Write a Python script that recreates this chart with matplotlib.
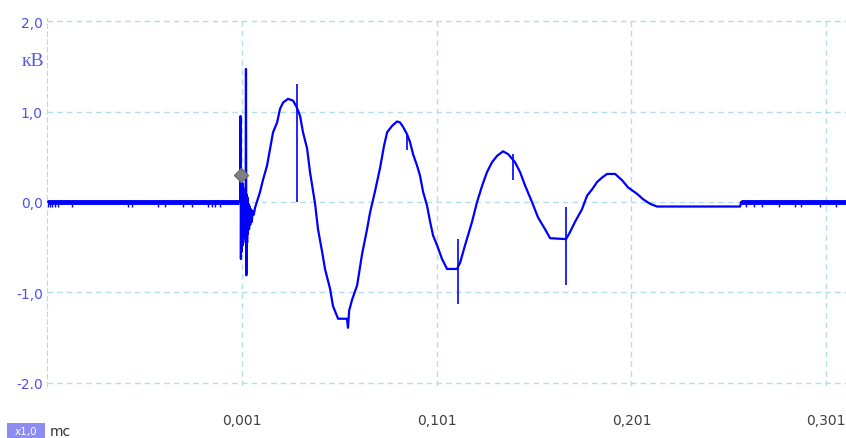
import numpy as np
import matplotlib.pyplot as plt
from matplotlib.patches import Rectangle

# main trace, time in ms, voltage in kV
t_trace = [-0.0992, -0.0005, 0.0000, 0.0002, 0.0004, 0.0006, 0.0008, 0.0010, 0.0012,
           0.0014, 0.0016, 0.0018, 0.0020, 0.0022, 0.0024, 0.0026, 0.0028, 0.0030,
           0.0032, 0.0034, 0.0036, 0.0038, 0.0040, 0.0043, 0.0046, 0.0049, 0.0052,
           0.0056, 0.0060, 0.0064, 0.0070, 0.0077,
           0.0102, 0.0118, 0.0138, 0.0154, 0.0169, 0.0190,
           0.0205, 0.0221, 0.0246, 0.0272, 0.0290, 0.0308, 0.0323, 0.0344, 0.0359,
           0.0385, 0.0400, 0.0421, 0.0436, 0.0462, 0.0477, 0.0503, 0.0549, 0.0554,
           0.0560, 0.0575, 0.0601, 0.0626, 0.0652, 0.0667, 0.0693, 0.0719, 0.0739,
           0.0755, 0.0780, 0.0806, 0.0821, 0.0837, 0.0857, 0.0873, 0.0888, 0.0909,
           0.0924, 0.0940, 0.0960, 0.0976, 0.0991, 0.1012, 0.1037, 0.1063, 0.1114,
           0.1130, 0.1155, 0.1191, 0.1217, 0.1243, 0.1268, 0.1294, 0.1320, 0.1350,
           0.1376, 0.1412, 0.1438, 0.1464, 0.1499, 0.1530, 0.1566, 0.1592, 0.1674,
           0.1695, 0.1720, 0.1756, 0.1782, 0.1808, 0.1833, 0.1859, 0.1885, 0.1926,
           0.1962, 0.1993, 0.2039, 0.2070, 0.2106, 0.2141, 0.2568, 0.2573, 0.3112]
v_trace = [0.00, 0.00, 0.00, 0.95, -0.63, 0.28, -0.55, 0.22, -0.48,
           0.20, -0.45, 0.15, -0.40, 0.12, -0.38, 0.10, -0.30, 1.47,
           -0.81, 0.08, -0.45, 0.05, -0.35, -0.02, -0.30, -0.05, -0.25,
           -0.08, -0.22, -0.10, -0.14, -0.06,
           0.11, 0.25, 0.40, 0.59, 0.77, 0.88,
           1.03, 1.10, 1.14, 1.12, 1.05, 0.95, 0.77, 0.59, 0.33,
           -0.02, -0.30, -0.55, -0.74, -0.96, -1.15, -1.29, -1.29, -1.39,
           -1.20, -1.08, -0.92, -0.58, -0.30, -0.12, 0.12, 0.38, 0.62,
           0.77, 0.84, 0.89, 0.88, 0.83, 0.75, 0.66, 0.53, 0.40,
           0.29, 0.11, -0.04, -0.22, -0.37, -0.48, -0.63, -0.74, -0.74,
           -0.67, -0.48, -0.22, 0.00, 0.18, 0.33, 0.44, 0.51, 0.56,
           0.53, 0.44, 0.33, 0.18, 0.00, -0.17, -0.30, -0.40, -0.41,
           -0.33, -0.22, -0.08, 0.07, 0.14, 0.22, 0.27, 0.31, 0.31,
           0.24, 0.16, 0.09, 0.03, -0.02, -0.05, -0.05, 0.00, 0.00]

# isolated spikes: time, low, high
spike_t = [0.0292, 0.0857, 0.1119, 0.1402, 0.1674]
spike_lo = [0.00, 0.58, -1.13, 0.24, -0.92]
spike_hi = [1.30, 0.75, -0.41, 0.53, -0.06]

# baseline noise ticks
noise_t = [-0.0986, -0.0976, -0.0966, -0.0950, -0.0935, -0.0863, -0.0575, -0.0555,
           -0.0421, -0.0385, -0.0293, -0.0247, -0.0165, -0.0144, -0.0129, -0.0103,
           0.2600, 0.2640, 0.2680, 0.2770, 0.2850, 0.2880, 0.2980, 0.3060]

# thick baseline segments
base_left = [-0.0992, -0.0005]
base_right = [0.2573, 0.3112]

marker_t, marker_v = 0.0002, 0.30

y_ticks = [-2.0, -1.0, 0.0, 1.0, 2.0]
y_labels = ['-2.0', '-1,0', '0,0', '1,0', '2,0']
x_ticks = [0.001, 0.101, 0.201, 0.301]
x_labels = ['0,001', '0,101', '0,201', '0,301']

blue = '#0000ff'
grid_c = '#b3dde8'

fig = plt.figure(figsize=(8.46, 4.39), dpi=100)
ax = fig.add_axes([47 / 846, 52.3 / 439, 1 - 47 / 846, 367.4 / 439])

ax.plot(t_trace, v_trace, color=blue, lw=1.6)
ax.plot(base_left, [0, 0], color=blue, lw=3.5, solid_capstyle='butt')
ax.plot(base_right, [0, 0], color=blue, lw=3.5, solid_capstyle='butt')
ax.vlines(spike_t, spike_lo, spike_hi, color=blue, lw=1.2)
ax.vlines(noise_t, -0.05, 0, color=blue, lw=1.0)
ax.plot(marker_t, marker_v, marker='D', ms=7.5, color='#808080', mec='#707070')

ax.set_xlim(-0.0992, 0.3112)
ax.set_ylim(-2.03, 2.03)

ax.set_xticks(x_ticks)
ax.set_xticklabels(x_labels)
ax.set_yticks(y_ticks)
ax.set_yticklabels(y_labels)
ax.tick_params(axis='both', length=0, labelsize=10)
ax.tick_params(axis='x', pad=20, labelcolor='#404040')
ax.tick_params(axis='y', pad=3, labelcolor='#5050f0')

ax.grid(True, color=grid_c, ls=(0, (4, 3)), lw=1.0)
ax.set_axisbelow(True)
for s in ['top', 'right', 'bottom']:
    ax.spines[s].set_visible(False)
ax.spines['left'].set_color(grid_c)
ax.spines['left'].set_linestyle((0, (4, 3)))

fig.text(22 / 846, 1 - 62 / 439, 'кВ', family='Liberation Serif', fontsize=14,
         color='#5a5ae6', ha='left', va='center')

fig.patches.append(Rectangle((7 / 846, 0), 38 / 846, 15 / 439, transform=fig.transFigure,
                             facecolor='#8c8cf2', edgecolor='none'))
fig.text(26 / 846, 7 / 439, 'x1,0', fontsize=7.5, color='white', ha='center', va='center')
fig.text(50 / 846, 7 / 439, 'mc', fontsize=10, color='#333333', ha='left', va='center')

fig.savefig('out.png', dpi=100)
